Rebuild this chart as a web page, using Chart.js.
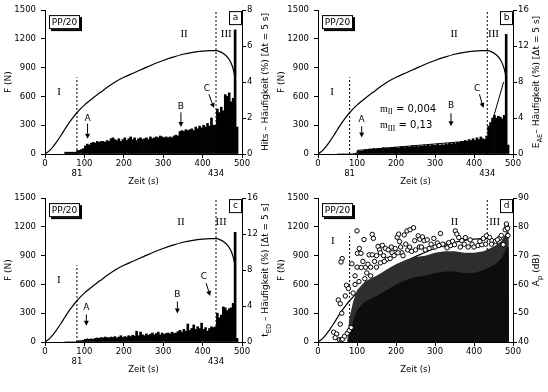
<!DOCTYPE html>
<html>
<head>
<meta charset="utf-8">
<script src="https://cdn.jsdelivr.net/npm/chart.js@4.4.1/dist/chart.umd.min.js"></script>
<style>
  html, body { margin: 0; padding: 0; background: #fff; }
  #wrap { position: relative; width: 548px; height: 392px; }
  .p { position: absolute; height: 196px; }
</style>
</head>
<body>
<div id="wrap">
  <div class="p" style="left:0;top:0;width:274px"><canvas id="pa"></canvas></div>
  <div class="p" style="left:273px;top:0;width:272px"><canvas id="pb"></canvas></div>
  <div class="p" style="left:0;top:188px;width:274px"><canvas id="pc"></canvas></div>
  <div class="p" style="left:273px;top:188px;width:272px"><canvas id="pd"></canvas></div>
</div>
<script>
// Kraft-Zeit-Kurve (PP/20)
const forceTime = [0, 10, 20, 30, 40, 50, 60, 70, 81, 90, 100, 110, 125, 140, 160, 180, 200, 225, 250, 275, 300, 325, 350, 375, 400, 420, 435, 445, 455, 465, 472, 478, 482, 484];
const forceN = [0, 30, 75, 130, 190, 255, 320, 375, 430, 470, 510, 545, 595, 640, 700, 755, 800, 845, 890, 935, 975, 1010, 1040, 1060, 1073, 1078, 1077, 1065, 1040, 1000, 950, 880, 800, 740];

// Histogramme, Klassen zu 5 s ab t = 50 s
const BIN_START = 50;
const BIN_WIDTH = 5;
const hitsPct = [
  0.1, 0.1, 0.1, 0.1, 0.1, 0.1, 0.2, 0.2, 0.25, 0.3,
  0.45, 0.55, 0.5, 0.6, 0.65, 0.6, 0.7, 0.65, 0.7, 0.7,
  0.65, 0.75, 0.7, 0.85, 0.9, 0.8, 0.75, 0.85, 0.7, 0.8,
  0.9, 0.75, 0.85, 0.95, 0.8, 0.9, 0.75, 0.85, 0.9, 0.8,
  0.85, 0.9, 0.8, 0.95, 0.85, 0.9, 0.95, 0.9, 1.0, 0.95,
  0.9, 0.95, 0.9, 0.95, 0.9, 1.0, 1.05, 1.0, 1.25, 1.3,
  1.25, 1.35, 1.3, 1.35, 1.4, 1.3, 1.5, 1.4, 1.55, 1.45,
  1.6, 1.5, 1.7, 1.55, 2.0, 1.6, 1.6, 2.5, 2.3, 2.6,
  2.4, 3.3, 3.2, 3.4, 2.9, 3.1, 6.9, 1.5
];
const energyPct = [
  0, 0, 0, 0, 0, 0, 0, 0, 0.05, 0.1,
  0.3, 0.35, 0.3, 0.4, 0.45, 0.4, 0.55, 0.5, 0.6, 0.5,
  0.55, 0.6, 0.55, 0.7, 0.6, 0.65, 0.6, 0.7, 0.65, 0.75,
  0.7, 0.65, 0.8, 0.75, 0.7, 0.85, 0.75, 0.8, 0.9, 0.8,
  0.85, 0.8, 0.9, 0.85, 0.95, 0.9, 1.0, 0.9, 1.05, 0.95,
  1.0, 1.1, 0.95, 1.05, 1.0, 1.15, 1.05, 1.2, 1.1, 1.2,
  1.15, 1.3, 1.25, 1.4, 1.3, 1.5, 1.35, 1.6, 1.45, 1.7,
  1.5, 1.8, 1.6, 1.9, 1.7, 1.6, 2.0, 3.1, 3.5, 4.0,
  4.3, 4.0, 4.2, 4.1, 3.9, 4.3, 13.3, 1.0
];
const durationPct = [
  0, 0, 0, 0, 0, 0, 0.1, 0.15, 0.15, 0.2,
  0.3, 0.35, 0.3, 0.35, 0.3, 0.4, 0.45, 0.4, 0.5, 0.45,
  0.55, 0.5, 0.45, 0.55, 0.5, 0.6, 0.45, 0.55, 0.7, 0.5,
  0.6, 0.55, 0.7, 0.6, 0.75, 0.65, 1.2, 0.7, 1.1, 0.8,
  0.7, 0.9, 0.75, 0.85, 1.0, 0.8, 0.95, 1.1, 0.8, 1.0,
  0.85, 0.95, 1.0, 0.9, 1.1, 0.95, 1.0, 1.15, 1.3, 1.1,
  1.4, 1.2, 2.0, 1.3, 1.5, 1.9, 1.4, 1.7, 1.5, 2.1,
  1.4, 1.6, 1.2, 1.5, 1.7, 1.6, 1.7, 3.2, 2.7, 3.0,
  3.9, 3.8, 3.5, 3.7, 3.8, 4.3, 12.2, 0.4
];

// Regressionsgeraden in b (m_II, m_III)
const mIITime = [100, 434];
const mIIPct = [0.4, 1.6];
const mIIITime = [448, 476];
const mIIIPct = [3.8, 8.0];

// d: dichte Punktwolke (Hüllkurven) und einzelne Ereignisse
const denseTime = [75, 80, 90, 100, 120, 150, 175, 200, 225, 250, 275, 300, 325, 350, 375, 400, 425, 440, 455, 470, 478, 485, 489, 490];
const denseTopDb = [41, 48, 54, 58, 61, 63, 65, 67, 68.5, 69.5, 70, 71, 71.5, 71.5, 71, 71, 71.5, 72.5, 73.5, 75, 77, 78.5, 78.5, 40];
const denseCoreDb = [40, 42, 47, 51, 54, 56, 58, 60, 61.5, 62.5, 63, 64, 64.5, 64.5, 64, 64, 65, 66, 67, 69, 71, 73, 73, 40];
const hitTime = [40, 48, 44, 55, 60, 63, 68, 75, 80, 85, 57, 52, 57, 61, 62, 59, 73, 78, 70, 87,
  100, 106, 101, 110, 111, 118, 139, 142, 131, 139, 154, 158, 165, 173, 177, 198, 203, 207, 209, 221,
  228, 236, 245, 248, 257, 261, 268, 272, 280, 297, 306, 314, 323, 331, 352, 356, 361, 369, 378, 390,
  424, 432, 440, 446, 475, 90, 95, 105, 120, 125, 135, 150, 160, 170, 185, 190, 215, 230, 240, 260,
  285, 300, 320, 340, 345, 365, 385, 395, 410, 420, 455, 465, 480, 484, 486, 487, 483,
  95, 100, 115, 122, 128, 135, 145, 150, 160, 168, 180, 188, 195, 205, 212, 218, 225, 235, 250, 265,
  275, 290, 310, 335, 350, 375, 400, 415, 430, 445, 460, 470];
const hitDb = [43.4, 42.8, 41.5, 40.8, 40.8, 41, 42, 43, 44, 45, 46.2, 54.6, 53.3, 50, 69, 67.8, 59.7, 58.6, 56, 67.2,
  78.6, 72.5, 70.8, 70.8, 65.9, 75.6, 77.4, 76, 70.3, 70.3, 73.2, 72, 73.6, 72.5, 68.7, 72.5, 76.4, 77.5, 74.9, 77.2,
  78.6, 79, 79.7, 75.2, 76.9, 75.7, 76.5, 75.2, 75.5, 76, 74.4, 77.7, 73.8, 72.7, 78.6, 77.5, 76.3, 75.2, 76.3, 75.5,
  76, 76.9, 76.3, 75.2, 73.8, 57, 60, 61, 62, 64, 63, 66, 67.5, 68, 69, 71, 71, 72, 71.5, 73,
  72.5, 73, 74, 73.5, 75, 73, 73, 74, 73.5, 73.8, 75, 76, 79, 80, 79.5, 77, 81,
  63, 66, 68, 66, 67, 66, 68, 70, 71, 70, 72, 73, 70, 71, 73, 70, 74, 73, 72, 73,
  72, 74, 73.5, 74.5, 73.8, 74, 73, 75, 74, 74, 75.5, 77];

const FONT = 'DejaVu Sans';
const SERIF = 'Liberation Serif';

function pts(xs, ys) { return xs.map((x, i) => ({ x: x, y: ys[i] })); }
function bins(vals) { return vals.map((v, i) => ({ x: BIN_START + BIN_WIDTH * i + BIN_WIDTH / 2, y: v })); }
const plain = v => String(v);

function drawArrow(ctx, x0, y0, x1, y1) {
  const a = Math.atan2(y1 - y0, x1 - x0), hl = 5, hw = 2.5;
  const bx = x1 - Math.cos(a) * hl, by = y1 - Math.sin(a) * hl;
  ctx.beginPath(); ctx.moveTo(x0, y0); ctx.lineTo(bx, by); ctx.stroke();
  ctx.beginPath(); ctx.moveTo(x1, y1);
  ctx.lineTo(bx + Math.sin(a) * hw, by - Math.cos(a) * hw);
  ctx.lineTo(bx - Math.sin(a) * hw, by + Math.cos(a) * hw);
  ctx.closePath(); ctx.fill();
}

// text with subscripts: parts = [[text, isSub, font?], ...]
function richText(ctx, parts, x, y, size, family, align) {
  const w = parts.reduce((s, p) => {
    ctx.font = (p[1] ? size * 0.75 : size) + 'px "' + (p[2] || family) + '"';
    return s + ctx.measureText(p[0]).width;
  }, 0);
  let cx = align === 'center' ? x - w / 2 : x;
  ctx.textAlign = 'left';
  parts.forEach(p => {
    ctx.font = (p[1] ? size * 0.75 : size) + 'px "' + (p[2] || family) + '"';
    ctx.fillText(p[0], cx, y + (p[1] ? size * 0.35 : 0));
    cx += ctx.measureText(p[0]).width;
  });
}

function makeOverlay(spec) {
  return {
    id: 'overlay',
    afterDraw(chart) {
      const ctx = chart.ctx, xs = chart.scales.x, ys = chart.scales.y, area = chart.chartArea;
      const X = v => xs.getPixelForValue(v), Y = v => ys.getPixelForValue(v);
      ctx.save();
      ctx.fillStyle = '#000'; ctx.strokeStyle = '#000'; ctx.lineWidth = 1;
      ctx.textBaseline = 'middle';

      ctx.font = '11px "' + SERIF + '"'; ctx.textAlign = 'center';
      spec.romans.forEach(r => ctx.fillText(r[0], X(r[1]), Y(r[2])));

      ctx.font = '9px "' + FONT + '"';
      (spec.arrows || []).forEach(a => {
        ctx.textAlign = 'center';
        ctx.fillText(a[0], X(a[1]), Y(a[2]));
        drawArrow(ctx, X(a[3]), Y(a[4]), X(a[5]), Y(a[6]));
      });

      (spec.notes || []).forEach(n => richText(ctx, n.parts, X(n.t), Y(n.f), 10, FONT, 'left'));

      // PP/20 Kasten mit Schatten
      const bx = area.left + 4, by = area.top + 5, bw = 31, bh = 14;
      ctx.fillRect(bx + 2, by + 2, bw, bh);
      ctx.fillStyle = '#fff'; ctx.fillRect(bx, by, bw, bh);
      ctx.fillStyle = '#000'; ctx.strokeRect(bx + 0.5, by + 0.5, bw - 1, bh - 1);
      ctx.font = '9px "' + FONT + '"'; ctx.textAlign = 'center';
      ctx.fillText('PP/20', bx + bw / 2, by + bh / 2 + 0.5);

      // Teilbild-Kennung
      const tx = area.right - 13, ty = area.top + 1;
      ctx.fillStyle = '#fff'; ctx.fillRect(tx, ty, 13, 14);
      ctx.fillStyle = '#000'; ctx.strokeRect(tx + 0.5, ty + 0.5, 12, 13);
      ctx.fillText(spec.tag, tx + 6.5, ty + 7);

      // rechte Achsenbeschriftung (von unten nach oben)
      ctx.translate(area.right + 24, (area.top + area.bottom) / 2);
      ctx.rotate(-Math.PI / 2);
      richText(ctx, spec.rightTitle, 0, 0, 9, FONT, 'center');
      ctx.restore();
    }
  };
}

function makePanel(id, spec) {
  const datasets = [
    { type: 'line', data: pts([81, 81], [0, spec.line81Top]), yAxisID: 'y', borderColor: '#000', borderWidth: 1, borderDash: [2, 2], pointRadius: 0, order: 9 },
    { type: 'line', data: pts([434, 434], [0, 1500]), yAxisID: 'y', borderColor: '#000', borderWidth: 1, borderDash: [2, 2], pointRadius: 0, order: 9 },
    { type: 'line', data: pts(forceTime, forceN), yAxisID: 'y', borderColor: '#000', borderWidth: 1.2, pointRadius: 0, cubicInterpolationMode: 'monotone', order: 8 }
  ].concat(spec.datasets);

  return new Chart(document.getElementById(id), {
    type: 'bar',
    data: { datasets: datasets },
    options: {
      responsive: true,
      maintainAspectRatio: false,
      animation: false,
      layout: { padding: { top: 8, left: 0, right: 0, bottom: 0 } },
      plugins: { legend: { display: false }, tooltip: { enabled: false } },
      scales: {
        x: {
          type: 'linear', position: 'bottom', min: 0, max: 500, offset: false, weight: 0,
          ticks: { stepSize: 100, padding: 1, color: '#000', font: { family: FONT, size: 8.5 }, callback: plain },
          grid: { drawOnChartArea: false, drawTicks: true, tickLength: 4, color: '#000', offset: false },
          border: { color: '#000', width: 1 },
          afterFit: s => { s.height = 14; }
        },
        x2: {
          type: 'linear', position: 'bottom', min: 0, max: 500, offset: false, weight: 1,
          afterBuildTicks: s => { s.ticks = spec.markTicks.map(v => ({ value: v })); },
          ticks: { autoSkip: false, padding: 1, color: '#000', font: { family: FONT, size: 8.5 }, callback: plain },
          grid: { display: false, drawTicks: false, tickLength: 0 },
          border: { display: false },
          title: { display: true, text: 'Zeit (s)', color: '#000', font: { family: FONT, size: 8.5 }, padding: { top: 0, bottom: 9 } },
          afterFit: s => { s.height = 28; }
        },
        y: {
          position: 'left', min: 0, max: 1500,
          ticks: { stepSize: 300, padding: 5, color: '#000', font: { family: FONT, size: 8.5 }, callback: plain },
          grid: { drawOnChartArea: false, drawTicks: true, tickLength: 4, color: '#000' },
          border: { color: '#000', width: 1 },
          title: { display: true, text: 'F (N)', color: '#000', font: { family: FONT, size: 9 }, padding: { top: 3, bottom: 0 } },
          afterFit: s => { s.width = 45; }
        },
        y2: {
          position: 'right', min: spec.rMin, max: spec.rMax,
          ticks: { stepSize: spec.rStep, padding: 1, color: '#000', font: { family: FONT, size: 8.5 }, callback: plain },
          grid: { drawOnChartArea: false, drawTicks: true, tickLength: 4, color: '#000' },
          border: { color: '#000', width: 1 },
          afterFit: s => { s.width = 32; }
        }
      }
    },
    plugins: [makeOverlay(spec)]
  });
}

function histDataset(vals) {
  return { type: 'bar', data: bins(vals), yAxisID: 'y2', backgroundColor: '#000', borderWidth: 0, barPercentage: 1, categoryPercentage: 1, order: 5 };
}
function fitLine(xs, ys) {
  return { type: 'line', data: pts(xs, ys), yAxisID: 'y2', borderColor: '#000', borderWidth: 1, pointRadius: 0, order: 1 };
}

makePanel('pa', {
  tag: 'a', rMin: 0, rMax: 8, rStep: 2, line81Top: 800, markTicks: [81, 434],
  rightTitle: [['Hits – Häufigkeit (%) [Δt = 5 s]', 0]],
  romans: [['I', 36, 640], ['II', 353, 1252], ['III', 460, 1252]],
  arrows: [['A', 108, 367, 108, 316, 108, 160], ['B', 345, 493, 345, 435, 345, 282], ['C', 411, 684, 416, 622, 429, 480]],
  datasets: [histDataset(hitsPct)]
});

makePanel('pb', {
  tag: 'b', rMin: 0, rMax: 16, rStep: 4, line81Top: 800, markTicks: [81, 434],
  rightTitle: [['E', 0], ['AE', 1], ['– Häufigkeit (%) [Δt = 5 s]', 0]],
  romans: [['I', 36, 650], ['II', 349, 1252], ['III', 450, 1252]],
  arrows: [['A', 112, 357, 112, 289, 112, 173], ['B', 341, 500, 341, 425, 341, 289], ['C', 408, 684, 414, 622, 424, 480]],
  notes: [
    { t: 159, f: 470, parts: [['m', 0, SERIF], ['II', 1, SERIF], [' = 0,004', 0]] },
    { t: 159, f: 300, parts: [['m', 0, SERIF], ['III', 1, SERIF], [' = 0,13', 0]] }
  ],
  datasets: [histDataset(energyPct), fitLine(mIITime, mIIPct), fitLine(mIIITime, mIIIPct)]
});

makePanel('pc', {
  tag: 'c', rMin: 0, rMax: 16, rStep: 4, line81Top: 800, markTicks: [81, 434],
  rightTitle: [['t', 0], ['ED', 1], [' – Häufigkeit (%) [Δt = 5 s]', 0]],
  romans: [['I', 35, 642], ['II', 345, 1250], ['III', 447, 1250]],
  arrows: [['A', 105, 362, 105, 287, 105, 169], ['B', 336, 497, 336, 422, 336, 297], ['C', 403, 686, 409, 615, 419, 480]],
  datasets: [histDataset(durationPct)]
});

makePanel('pd', {
  tag: 'd', rMin: 40, rMax: 90, rStep: 10, line81Top: 1130, markTicks: [],
  rightTitle: [['A', 0], ['p', 1], [' (dB)', 0]],
  romans: [['I', 38, 1047], ['II', 350, 1250], ['III', 453, 1250]],
  datasets: [
    { type: 'line', data: pts(denseTime, denseTopDb), yAxisID: 'y2', borderWidth: 0, backgroundColor: '#2e2e2e', fill: 'start', pointRadius: 0, order: 4 },
    { type: 'line', data: pts(denseTime, denseCoreDb), yAxisID: 'y2', borderWidth: 0, backgroundColor: '#0d0d0d', fill: 'start', pointRadius: 0, order: 3 },
    { type: 'line', data: pts(hitTime, hitDb), yAxisID: 'y2', showLine: false, pointRadius: 2.2, pointBackgroundColor: '#fff', pointBorderColor: '#000', pointBorderWidth: 1, order: 2 }
  ]
});
</script>
</body>
</html>
